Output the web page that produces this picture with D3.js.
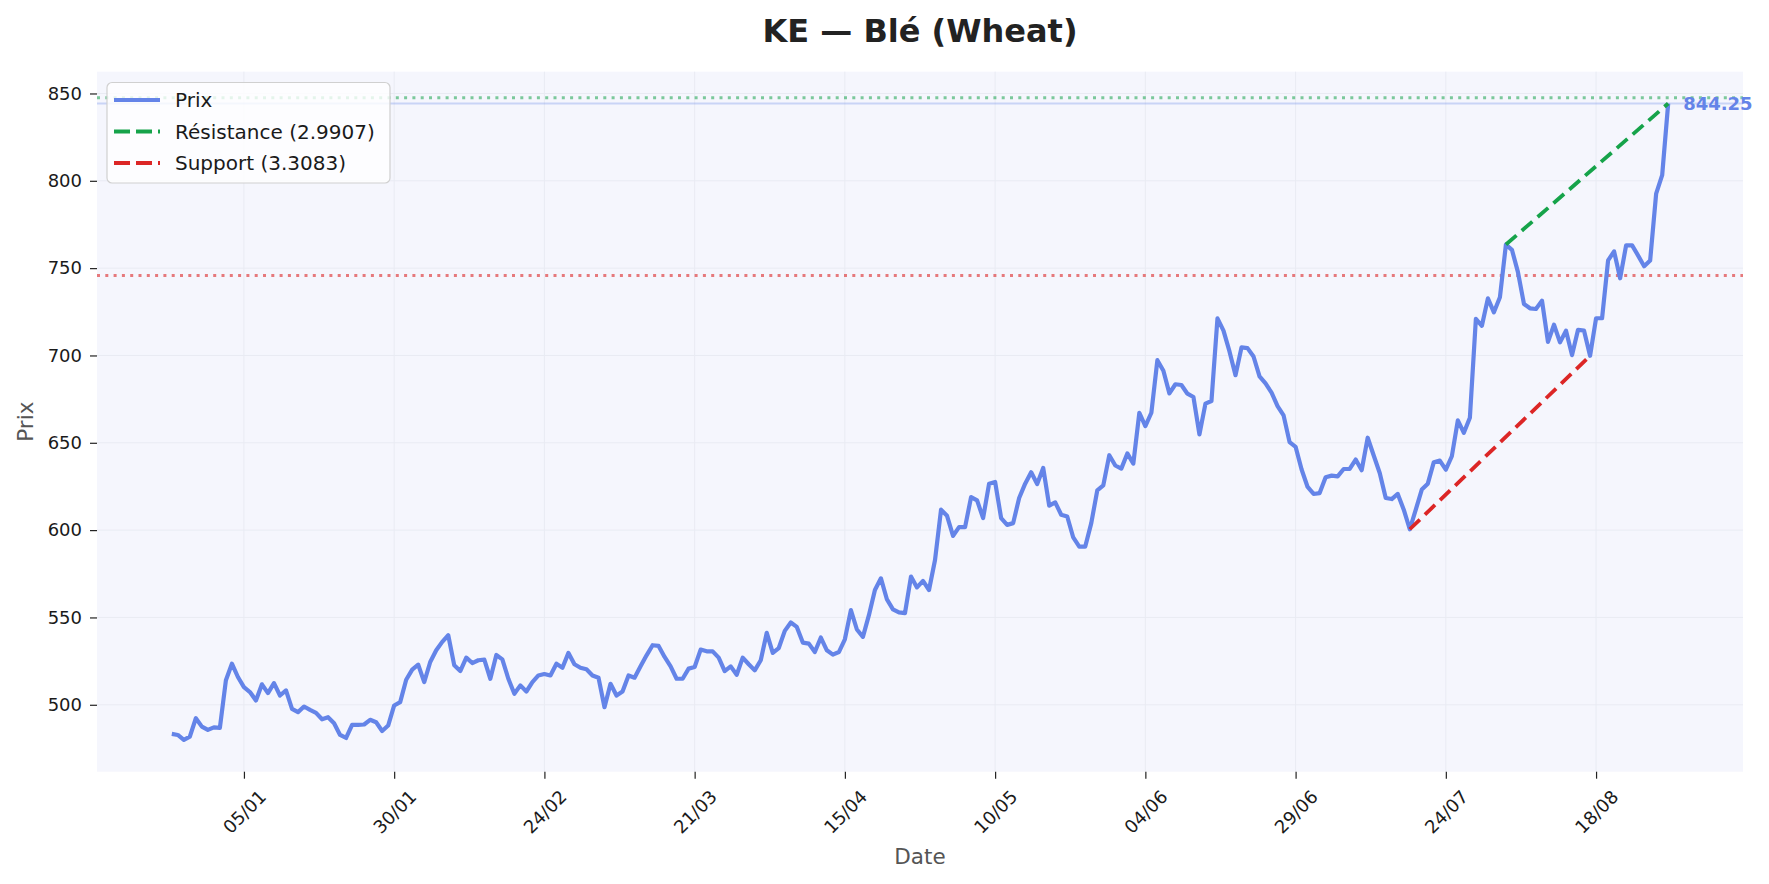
<!DOCTYPE html>
<html><head><meta charset="utf-8">
<script src="https://cdn.jsdelivr.net/npm/d3@7"></script>
<style>body{margin:0;background:#fff}svg{display:block;font-family:"DejaVu Sans",sans-serif}</style>
</head><body><div id="chart"></div>
<script>
// ---- data ----
const startDate = "2024-12-24"; // one price per calendar day
const prices = [
 483.3,482.7,479.9,481.8,492.3,487.5,485.6,487.1,486.8,514.0,
 523.5,515.9,510.1,507.3,502.5,511.7,506.7,512.4,505.3,508.2,
 497.7,495.8,499.0,497.1,495.4,491.7,492.9,489.4,482.7,481.0,
 488.5,488.5,488.7,491.4,490.0,485.0,488.1,499.6,501.5,514.3,
 520.1,523.0,513.0,524.5,531.2,536.0,539.8,522.6,519.3,527.0,
 523.9,525.5,525.8,514.9,528.5,526.0,514.9,506.3,511.1,507.6,
 513.0,516.8,517.6,516.8,523.5,521.2,529.7,523.2,521.2,520.3,
 516.8,515.5,498.6,512.0,505.3,507.6,516.8,515.5,522.0,528.3,
 534.1,533.7,527.4,522.0,514.9,514.9,520.7,521.6,531.6,530.6,
 530.6,527.0,519.3,522.0,517.2,527.0,523.2,519.7,525.5,541.2,
 529.7,532.5,542.3,547.1,544.6,535.6,535.0,530.2,538.5,531.2,
 528.7,530.2,537.5,554.2,543.1,538.9,551.3,565.7,572.4,560.3,
 554.6,552.9,552.5,573.4,567.2,570.9,565.7,582.9,611.7,608.2,
 596.7,601.7,601.7,618.9,617.0,606.9,626.6,627.6,606.9,603.0,
 604.0,618.4,626.6,633.1,626.4,635.6,614.0,615.9,608.8,607.8,
 595.8,590.6,590.6,604.0,622.8,625.6,642.9,637.0,635.2,643.9,
 638.1,667.2,659.6,667.2,697.3,691.2,678.3,683.5,683.1,678.1,
 676.2,654.8,672.4,673.9,721.2,714.2,702.3,688.7,704.6,704.2,
 699.4,688.0,684.0,678.7,671.0,665.7,650.4,647.7,634.7,624.7,
 620.7,621.2,630.3,631.2,630.8,635.0,635.0,640.4,634.3,652.9,
 642.7,632.7,618.4,617.8,620.7,611.7,600.5,611.7,623.2,626.6,
 638.9,639.8,634.6,642.3,662.8,655.7,664.3,720.9,717.0,732.7,
 724.7,733.3,763.5,760.5,747.7,729.5,727.0,726.6,731.4,707.8,
 717.6,707.5,714.2,700.2,714.7,714.2,699.8,721.3,721.3,754.4,
 759.6,744.2,763.0,763.0,757.2,751.1,754.4,792.7,803.2,844.25
];
const xTickDates = ["2025-01-05","2025-01-30","2025-02-24","2025-03-21","2025-04-15",
                    "2025-05-10","2025-06-04","2025-06-29","2025-07-24","2025-08-18"];
const yTickValues = [500,550,600,650,700,750,800,850];
const resistanceDates = ["2025-08-03","2025-08-30"];
const resistanceValues = [763.5, 844.25];
const supportDates = ["2025-07-18","2025-08-17"];
const supportValues = [600.5, 699.75];
const resistanceLevel = 847.5;
const supportLevel = 745.75;
const legendLabels = ["Prix","Résistance (2.9907)","Support (3.3083)"];
const titleText = "KE — Blé (Wheat)";
const xLabel = "Date", yLabel = "Prix";

// ---- layout ----
const W = 1769, H = 884;
const L = 97, R = 1743, T = 71.7, B = 771.7;
const FONT = '"DejaVu Sans", sans-serif';
const C = {line:"#6484e8", green:"#16a34a", red:"#dc2626", bg:"#f5f6fd", grid:"#e9ebf3", text:"#1a1a1a"};

const parse = d3.timeParse("%Y-%m-%d");
const d0 = parse(startDate);
const data = prices.map((v,i)=>({date:d3.timeDay.offset(d0,i), value:v}));

const ext = d3.extent(data, d=>d.date);
const span = ext[1]-ext[0];
const x = d3.scaleTime().domain([new Date(+ext[0]-0.05*span), new Date(+ext[1]+0.05*span)]).range([L,R]);
const vExt = d3.extent(prices);
const vPad = (vExt[1]-vExt[0])*0.05;
const y = d3.scaleLinear().domain([vExt[0]-vPad, vExt[1]+vPad]).range([B,T]);

const svg = d3.select("#chart").append("svg").attr("width",W).attr("height",H).style("font-family",FONT);
svg.append("rect").attr("width",W).attr("height",H).attr("fill","#fff");
svg.append("rect").attr("x",L).attr("y",T).attr("width",R-L).attr("height",B-T).attr("fill",C.bg);

const xt = xTickDates.map(parse);
// grid
svg.append("g").selectAll("line").data(xt).join("line")
  .attr("x1",d=>x(d)).attr("x2",d=>x(d)).attr("y1",T).attr("y2",B)
  .attr("stroke",C.grid).attr("stroke-width",1);
svg.append("g").selectAll("line").data(yTickValues).join("line")
  .attr("x1",L).attr("x2",R).attr("y1",d=>y(d)).attr("y2",d=>y(d))
  .attr("stroke",C.grid).attr("stroke-width",1);

// axes
const xAxis = svg.append("g").attr("transform",`translate(0,${B})`)
  .call(d3.axisBottom(x).tickValues(xt).tickFormat(d3.timeFormat("%d/%m")).tickSize(7).tickPadding(6));
xAxis.attr("font-family",FONT).attr("font-size",18);
xAxis.select(".domain").remove();
xAxis.selectAll(".tick line").attr("stroke","#222").attr("stroke-width",1.2);
xAxis.selectAll(".tick text").attr("font-size",18).attr("font-family",FONT).attr("fill",C.text)
  .attr("text-anchor","middle").attr("dy",null).attr("y",null)
  .attr("dominant-baseline","central")
  .attr("transform","translate(0,40) rotate(-45)");

const yAxis = svg.append("g").attr("transform",`translate(${L},0)`)
  .call(d3.axisLeft(y).tickValues(yTickValues).tickSize(7).tickPadding(8));
yAxis.attr("font-family",FONT).attr("font-size",18);
yAxis.select(".domain").remove();
yAxis.selectAll(".tick line").attr("stroke","#222").attr("stroke-width",1.2);
yAxis.selectAll(".tick text").attr("font-size",18).attr("font-family",FONT).attr("fill",C.text);

// horizontal levels
const last = data[data.length-1];
svg.append("line").attr("x1",L).attr("x2",R).attr("y1",y(last.value)).attr("y2",y(last.value))
  .attr("stroke",C.line).attr("stroke-opacity",0.3).attr("stroke-width",2);
svg.append("line").attr("x1",L).attr("x2",R).attr("y1",y(resistanceLevel)).attr("y2",y(resistanceLevel))
  .attr("stroke",C.green).attr("stroke-opacity",0.55).attr("stroke-width",3).attr("stroke-dasharray","3,5.3");
svg.append("line").attr("x1",L).attr("x2",R).attr("y1",y(supportLevel)).attr("y2",y(supportLevel))
  .attr("stroke",C.red).attr("stroke-opacity",0.6).attr("stroke-width",3).attr("stroke-dasharray","3,5.3");

// price line
const line = d3.line().x(d=>x(d.date)).y(d=>y(d.value));
svg.append("path").datum(data).attr("d",line).attr("fill","none")
  .attr("stroke",C.line).attr("stroke-width",4.2).attr("stroke-linejoin","round").attr("stroke-linecap","butt");

// trend lines
const res = resistanceDates.map((d,i)=>({date:parse(d), value:resistanceValues[i]}));
const sup = supportDates.map((d,i)=>({date:parse(d), value:supportValues[i]}));
svg.append("path").datum(res).attr("d",line).attr("fill","none")
  .attr("stroke",C.green).attr("stroke-width",3.8).attr("stroke-dasharray","14,7");
svg.append("path").datum(sup).attr("d",line).attr("fill","none")
  .attr("stroke",C.red).attr("stroke-width",3.8).attr("stroke-dasharray","14,7");

// last value label
svg.append("text").attr("x",x(last.date)+15).attr("y",y(last.value))
  .attr("dominant-baseline","central").attr("font-size",18).attr("font-weight","bold")
  .attr("fill",C.line).text(d3.format(".2f")(last.value));

// title & labels
svg.append("text").attr("x",(L+R)/2).attr("y",41.5).attr("text-anchor","middle")
  .attr("font-size",32).attr("font-weight","bold").attr("fill","#222").text(titleText);
svg.append("text").attr("x",(L+R)/2).attr("y",856).attr("text-anchor","middle")
  .attr("dominant-baseline","central").attr("font-size",21.5).attr("fill","#555").text(xLabel);
svg.append("text").attr("transform",`translate(25,${(T+B)/2}) rotate(-90)`).attr("text-anchor","middle")
  .attr("dominant-baseline","central").attr("font-size",21.5).attr("fill","#555").text(yLabel);

// legend
const lg = svg.append("g");
lg.append("rect").attr("x",107).attr("y",82.5).attr("width",283).attr("height",100.5).attr("rx",5)
  .attr("fill","#fff").attr("fill-opacity",0.8).attr("stroke","#d0d0d0").attr("stroke-width",1.2);
const legendStyles = [
  {color:C.line, dash:null},
  {color:C.green, dash:"16,6"},
  {color:C.red, dash:"16,6"}
];
legendLabels.forEach((lab,i)=>{
  const cy = 100 + i*31.5;
  lg.append("line").attr("x1",114).attr("x2",160).attr("y1",cy).attr("y2",cy)
    .attr("stroke",legendStyles[i].color).attr("stroke-width",4.2)
    .attr("stroke-dasharray",legendStyles[i].dash);
  lg.append("text").attr("x",175).attr("y",cy).attr("dominant-baseline","central")
    .attr("font-size",20).attr("fill",C.text).text(lab);
});
</script></body></html>
